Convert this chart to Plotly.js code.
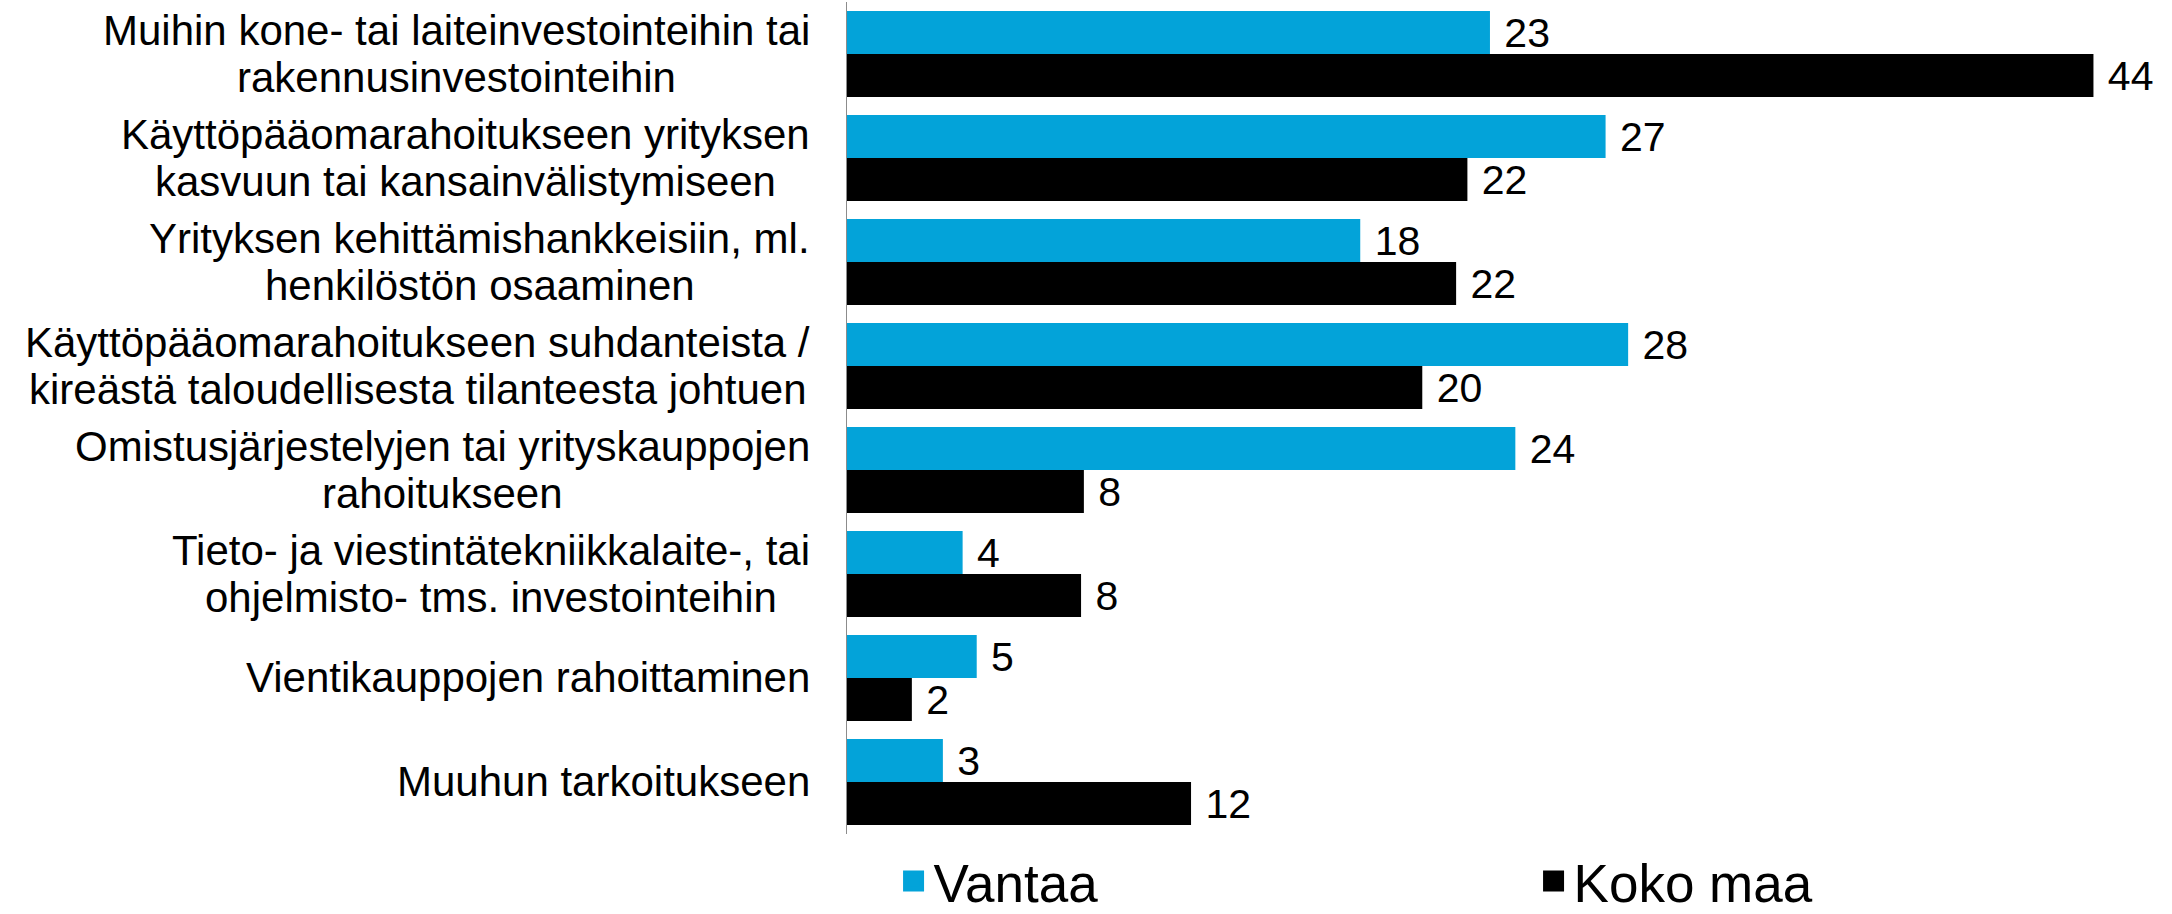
<!DOCTYPE html>
<html>
<head>
<meta charset="utf-8">
<script src="https://cdn.plot.ly/plotly-3.0.1.min.js"></script>
<style>html,body{margin:0;padding:0;background:#fff;}#chart{width:2172px;height:914px;}</style>
</head>
<body>
<div id="chart"></div>
<script>
const categories = [
  "Muihin kone- tai laiteinvestointeihin tai<br>rakennusinvestointeihin",
  "Käyttöpääomarahoitukseen yrityksen<br>kasvuun tai kansainvälistymiseen",
  "Yrityksen kehittämishankkeisiin, ml.<br>henkilöstön osaaminen",
  "Käyttöpääomarahoitukseen suhdanteista /<br>kireästä taloudellisesta tilanteesta johtuen",
  "Omistusjärjestelyjen tai yrityskauppojen<br>rahoitukseen",
  "Tieto- ja viestintätekniikkalaite-, tai<br>ohjelmisto- tms. investointeihin",
  "Vientikauppojen rahoittaminen",
  "Muuhun tarkoitukseen"
];
const seriesNames = ["Vantaa", "Koko maa"];
// values (labels show them rounded)
const vantaa = [22.8, 26.9, 18.2, 27.7, 23.7, 4.1, 4.6, 3.4];
const kokoMaa = [44.2, 22.0, 21.6, 20.4, 8.4, 8.3, 2.3, 12.2];
const colors = ['#03A3D9', '#000000'];

const FONT = "'Liberation Sans', Arial, sans-serif";
const LABEL_SIZE = 42;

function barTrace(name, values, color) {
  return {
    type: 'bar',
    orientation: 'h',
    name: name,
    y: categories,
    x: values,
    marker: {color: color, line: {width: 0}},
    texttemplate: ' %{x:.0f}',
    textposition: 'outside',
    constraintext: 'none',
    cliponaxis: false,
    textfont: {family: FONT, size: 41, color: '#000'},
    showlegend: false,
    hoverinfo: 'x+y'
  };
}

function legendProxy(name, color) {
  return {
    type: 'scatter', mode: 'markers', name: name,
    x: [null], y: [null],
    marker: {symbol: 'square', size: 16, color: color, line: {width: 5, color: color}},
    showlegend: true, hoverinfo: 'skip'
  };
}

const data = [
  barTrace(seriesNames[0], vantaa, colors[0]),
  barTrace(seriesNames[1], kokoMaa, colors[1]),
  legendProxy(seriesNames[0], colors[0]),
  legendProxy(seriesNames[1], colors[1])
];

// category labels: lines centred on each other, block right-aligned next to the axis
const ctx = document.createElement('canvas').getContext('2d');
ctx.font = LABEL_SIZE + "px 'Liberation Sans', Arial, sans-serif";
const LINE_STEP = 47;
const annotations = [];
categories.forEach(c => {
  const lines = c.split('<br>');
  const maxW = Math.max.apply(null, lines.map(l => ctx.measureText(l).width));
  lines.forEach((l, i) => {
    const mid = (lines.length - 1) / 2;
    annotations.push({
      text: l,
      xref: 'x', yref: 'y',
      x: 0, y: c,
      xanchor: 'center', yanchor: 'middle',
      xshift: -(37 + maxW / 2),
      yshift: (mid - i) * LINE_STEP + 0.5,
      showarrow: false,
      font: {family: FONT, size: LABEL_SIZE, color: '#000'}
    });
  });
});

const layout = {
  width: 2172, height: 914,
  margin: {l: 847, r: 23, t: 2, b: 80, pad: 0},
  paper_bgcolor: '#fff', plot_bgcolor: '#fff',
  barmode: 'group',
  bargap: 0.173,
  bargroupgap: 0,
  font: {family: FONT, color: '#000'},
  xaxis: {
    range: [0, 46.17],
    showgrid: false, zeroline: false, showline: false,
    showticklabels: false, ticks: ''
  },
  yaxis: {
    type: 'category',
    autorange: 'reversed',
    showgrid: false, zeroline: false,
    showline: true, linecolor: '#8c8c8c', linewidth: 1.5,
    showticklabels: false, ticks: ''
  },
  showlegend: true,
  legend: {
    orientation: 'h',
    xref: 'container', yref: 'container',
    x: 0.4114, y: 0.036,
    xanchor: 'left', yanchor: 'middle',
    entrywidth: 595,
    font: {family: FONT, size: 53, color: '#000'},
    itemsizing: 'trace',
    traceorder: 'normal'
  },
  annotations: annotations
};

Plotly.newPlot('chart', data, layout, {displayModeBar: false, staticPlot: true});
</script>
</body>
</html>
